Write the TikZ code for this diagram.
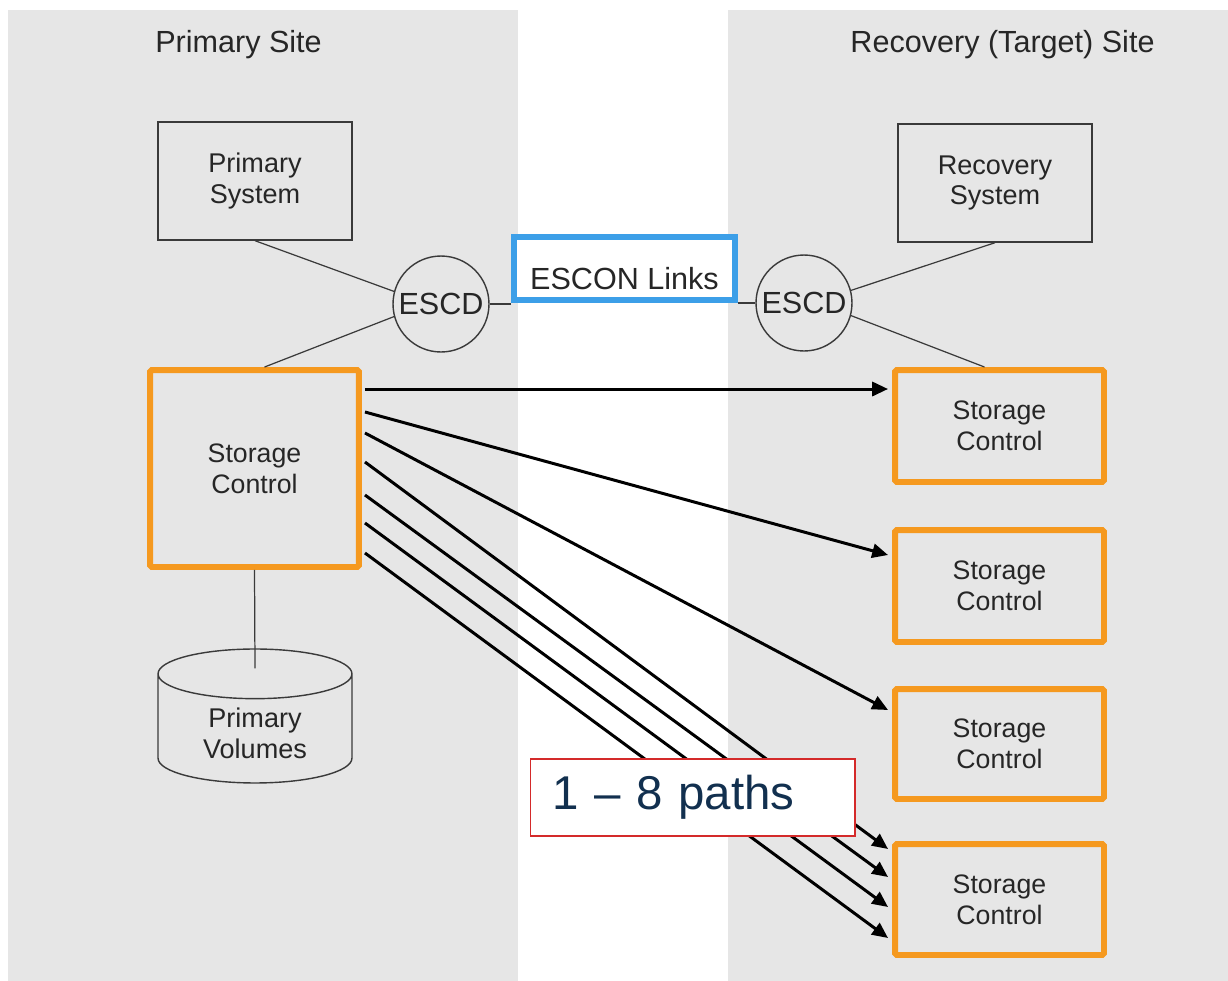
\documentclass[tikz,border=0pt]{standalone}
\usepackage{fontspec}
\setmainfont{Liberation Sans}
\usetikzlibrary{positioning,calc,arrows.meta,shapes.geometric}

\definecolor{panelgrey}{HTML}{E6E6E6}
\definecolor{hiorange}{HTML}{F5991F}
\definecolor{hiblue}{HTML}{3C9FE8}
\definecolor{linegrey}{HTML}{3A3A3A}
\definecolor{noteline}{HTML}{D42A2A}
\definecolor{notetext}{HTML}{12304F}

\tikzset{
  sitebox/.style={draw=linegrey, line width=0.8pt, minimum width=3.88cm, minimum height=2.36cm, align=center, text=black!85, font=\fontsize{15.4}{17.6}\selectfont},
  ctrlbox/.style={draw=hiorange, line width=3.4pt, rounded corners=1pt, minimum width=4.18cm, align=center, text=black!85, font=\fontsize{15.2}{17.6}\selectfont},
  switch/.style={circle, draw=linegrey, line width=0.8pt, minimum size=1.92cm, inner sep=0pt, text=black!85, font=\fontsize{17.4}{20}\selectfont},
  thinlink/.style={draw=linegrey, line width=0.7pt},
  pathline/.style={line width=1.7pt, -{Triangle[length=9pt,width=8pt]}},
  sitetitle/.style={anchor=base, text=black!85, font=\fontsize{17.4}{20}\selectfont}
}

\begin{document}
\begin{tikzpicture}[x=0.02cm, y=-0.02cm]
    \useasboundingbox (0,0) rectangle (1228,981);
    \fill[panelgrey] (8,10) rectangle (518,981);
    \fill[panelgrey] (728,10) rectangle (1228,981);
    \node[sitetitle] (primTitle) at (238.5,52) {Primary Site};
    \node[sitetitle] (recTitle) at (1002.5,52) {Recovery (Target) Site};

    \node[sitebox] (primSys) at (255,181) {Primary\\System};
    \node[switch] (escdL) at (441,304) {ESCD};
    \node[ctrlbox, minimum height=3.94cm] (ctrlL) at (254.5,468.5) {Storage\\Control};
    \node[cylinder, shape border rotate=90, draw=linegrey, line width=0.8pt, aspect=0.43,
        minimum width=3.88cm, minimum height=2.68cm, align=center, text=black!85,
        font=\fontsize{15.4}{17.6}\selectfont] (vol) at (255,733) {Primary\\Volumes};

    \node[sitebox] (recSys) at (995,183) {Recovery\\System};
    \node[switch] (escdR) at (804,303) {ESCD};
    \node[ctrlbox, minimum height=2.24cm] (ctrlA) at (999.5,426) {Storage\\Control};
    \node[ctrlbox, minimum height=2.24cm] (ctrlB) at (999.5,586) {Storage\\Control};
    \node[ctrlbox, minimum height=2.2cm] (ctrlC) at (999.5,744) {Storage\\Control};
    \node[ctrlbox, minimum height=2.22cm] (ctrlD) at (999.5,899.5) {Storage\\Control};

    \node[draw=hiblue, line width=3.4pt, fill=white, minimum width=4.42cm, minimum height=1.26cm,
        text height=0.84cm, text depth=0pt, text=black!85, font=\fontsize{17.4}{20}\selectfont] (links) at (624.5,268.5) {ESCON Links};

    \draw[thinlink] (primSys.south) -- (escdL.165);
    \draw[thinlink] (escdL.195) -- ([xshift=0.2cm]ctrlL.north);
    \draw[thinlink] (escdL.east) -- (escdL.east -| links.west);
    \draw[thinlink] (escdR.west) -- (escdR.west -| links.east);
    \draw[thinlink] (recSys.south) -- (escdR.15);
    \draw[thinlink] (escdR.-15) -- ([xshift=-0.3cm]ctrlA.north);
    \draw[thinlink] (ctrlL.south) -- ([yshift=-0.4cm]vol.north);

    % one to eight paths
    \draw[pathline] ($(ctrlL.east)+(3,-79.5)$) -- ($(ctrlA.west)+(-4,-37)$);
    \draw[pathline] ($(ctrlL.east)+(3,-56.5)$) -- ($(ctrlB.west)+(-4,-31)$);
    \draw[pathline] ($(ctrlL.east)+(3,-35.5)$) -- ($(ctrlC.west)+(-4,-34)$);
    \draw[pathline] ($(ctrlL.east)+(3,-6.5)$) -- ($(ctrlD.west)+(-4,-50.5)$);
    \draw[pathline] ($(ctrlL.east)+(3,26.5)$) -- ($(ctrlD.west)+(-4,-22.5)$);
    \draw[pathline] ($(ctrlL.east)+(3,54.5)$) -- ($(ctrlD.west)+(-4,7.5)$);
    \draw[pathline] ($(ctrlL.east)+(3,84.5)$) -- ($(ctrlD.west)+(-4,38.5)$);

    \node[draw=noteline, line width=0.6pt, fill=white, minimum width=6.5cm, minimum height=1.54cm,
        text width=5.62cm, inner xsep=0.44cm, align=left, text=notetext,
        font=\fontsize{27}{30}\selectfont] (note) at (692.5,797.5) {1 -- 8 paths};
\end{tikzpicture}
\end{document}
